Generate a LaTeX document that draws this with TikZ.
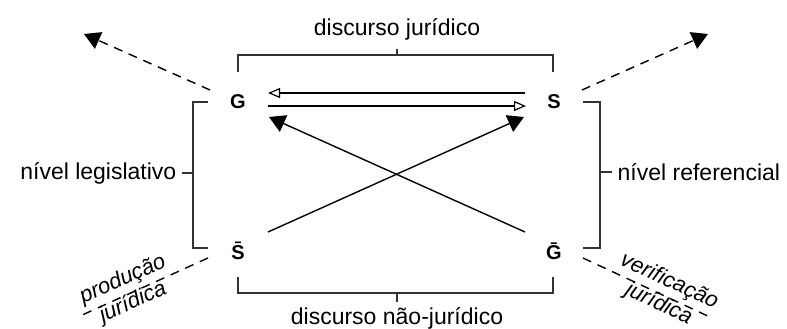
\documentclass[tikz,border=0pt]{standalone}
\usepackage{fontspec}
\setmainfont{Liberation Sans}
\usetikzlibrary{arrows.meta}
\begin{document}
\begin{tikzpicture}[x=1pt,y=-1pt,
  line width=1.4pt,
  lbl/.style={font=\fontsize{23}{27}\selectfont, inner sep=0pt},
  slant/.style={font=\fontsize{22}{25}\selectfont\itshape, inner sep=0pt, align=center},
  vtx/.style={font=\fontsize{20}{24}\selectfont\bfseries, inner sep=0pt},
  brk/.style={line width=1.4pt, draw=black!80},
  openarr/.style={-{Triangle[open,length=12pt,width=10pt,line width=1.2pt]}},
  fillarr/.style={-{Triangle[length=16pt,width=18pt]}},
  dashln/.style={dash pattern=on 9pt off 7pt},
]
\useasboundingbox (0,0) rectangle (787,329);
% vertices
\node[vtx] (G)  at (238,102) {G};
\node[vtx] (S)  at (554,102) {S};
\node[vtx] (Sb) at (238,251) {S̄};
\node[vtx] (Gb) at (554,251) {Ḡ};
% double arrows
\coordinate (t1) at (525,93);  \coordinate (t2) at (268,93);
\coordinate (b1) at (268,106); \coordinate (b2) at (526,106);
\draw[openarr] (t1) -- (t2);
\draw[openarr] (b1) -- (b2);
% cross arrows
\coordinate (cs1) at (268,232); \coordinate (cs2) at (524,117);
\coordinate (cg1) at (525,232); \coordinate (cg2) at (269,117);
\draw[fillarr] (cs1) -- (cs2);
\draw[fillarr] (cg1) -- (cg2);
% top bracket
\draw[brk] (238,72) -- (238,55) -- (553,55) -- (553,72);
\draw[brk] (397,55) -- (397,49);
\node[lbl] (top) at (397,29) {discurso jurídico};
% bottom bracket
\draw[brk] (238,277) -- (238,293) -- (553,293) -- (553,277);
\draw[brk] (397,293) -- (397,302);
\node[lbl] (bot) at (397,318) {discurso não-jurídico};
% left bracket
\draw[brk] (208,102) -- (193,102) -- (193,248) -- (208,248);
\draw[brk] (193,173) -- (182,173);
\node[lbl, anchor=east] (left) at (177,173) {nível legislativo};
% right bracket
\draw[brk] (583,102) -- (600,102) -- (600,248) -- (583,248);
\draw[brk] (600,172) -- (612,172);
\node[lbl, anchor=west] (right) at (617,172) {nível referencial};
% dashed arrows up
\coordinate (ul1) at (210,90); \coordinate (ul2) at (84,34);
\coordinate (ur1) at (582,90); \coordinate (ur2) at (708,34);
\draw[dashln, -{Triangle[length=16pt,width=18pt]}] (ul1) -- (ul2);
\draw[dashln, -{Triangle[length=16pt,width=18pt]}] (ur1) -- (ur2);
% dashed lines down with labels
\coordinate (dl1) at (208,258); \coordinate (dl2) at (80,316);
\coordinate (dr1) at (583,258); \coordinate (dr2) at (712,318);
\draw[dashln] (dl1) -- (dl2);
\draw[dashln] (dr1) -- (dr2);
\node[slant, rotate=24] (prod) at (128,291) {produção\\jurídica};
\node[slant, rotate=-25] (verif) at (664,293) {verificação\\jurídica};
\end{tikzpicture}
\end{document}
